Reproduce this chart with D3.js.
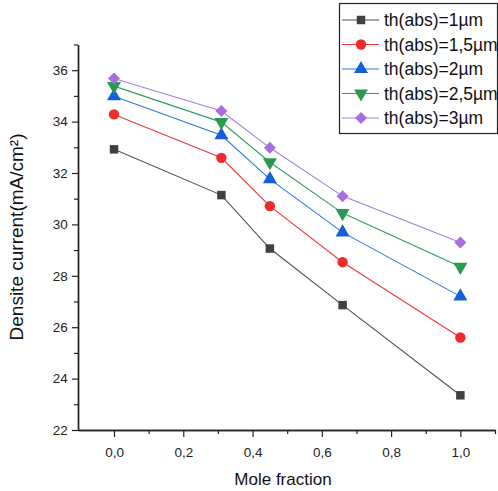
<!DOCTYPE html>
<html><head><meta charset="utf-8">
<script src="https://cdn.jsdelivr.net/npm/d3@7"></script>
<style>body{margin:0;background:#fff;} svg{display:block;font-family:Arial,"Liberation Sans",sans-serif;}</style>
</head><body>
<svg id="c" width="498" height="491"></svg>
<script>
const moleFraction = [0, 0.31, 0.45, 0.66, 1.0];
const seriesNames = ["th(abs)=1µm", "th(abs)=1,5µm", "th(abs)=2µm", "th(abs)=2,5µm", "th(abs)=3µm"];
const th1  = [32.92, 31.14, 29.06, 26.86, 23.35];
const th15 = [34.28, 32.59, 30.71, 28.53, 25.60];
const th2  = [34.99, 33.47, 31.76, 29.69, 27.20];
const th25 = [35.38, 33.98, 32.42, 30.44, 28.35];
const th3  = [35.68, 34.41, 32.98, 31.10, 29.30];
const xTicks = [0, 0.2, 0.4, 0.6, 0.8, 1.0];
const yTicks = [22, 24, 26, 28, 30, 32, 34, 36];

const seriesValues = [th1, th15, th2, th25, th3];
const lineColors = ["#505050", "#f03a3a", "#2f78e0", "#2ea05c", "#a57ee0"];
const markColors = ["#404040", "#ee2c2c", "#1560d8", "#2a9a50", "#a86ee0"];
const shapes = ["square", "circle", "up", "down", "diamond"];

const svg = d3.select("#c");
const x = d3.scaleLinear().domain([-0.104, 1.1]).range([78, 495]);
const y = d3.scaleLinear().domain([22, 37]).range([430, 44.5]);

const fmt = d => d3.format(".1f")(d).replace(".", ",");
const xAxis = svg.append("g").attr("transform", "translate(0,430)")
  .call(d3.axisBottom(x).tickValues(xTicks).tickFormat(fmt).tickSize(7).tickSizeOuter(0));
const xMinor = svg.append("g").attr("transform", "translate(0,430)")
  .call(d3.axisBottom(x).tickValues([0.1,0.3,0.5,0.7,0.9,1.1]).tickFormat("").tickSize(4).tickSizeOuter(0));
const yAxis = svg.append("g").attr("transform", "translate(78,0)")
  .call(d3.axisLeft(y).tickValues(yTicks).tickSize(6).tickSizeOuter(0));
const yMinor = svg.append("g").attr("transform", "translate(78,0)")
  .call(d3.axisLeft(y).tickValues([23,25,27,29,31,33,35,37]).tickFormat("").tickSize(4).tickSizeOuter(0));
[xAxis, xMinor, yAxis, yMinor].forEach(g => {
  g.select(".domain").attr("stroke", "#222").attr("stroke-width", 1.4);
  g.selectAll(".tick line").attr("stroke", "#222").attr("stroke-width", 1.2);
  g.selectAll(".tick text").attr("fill", "#222").style("font-size", "13.5px").style("font-family", "Arial, 'Liberation Sans', sans-serif");
});
xAxis.selectAll(".tick text").attr("dy", "1.25em");
yAxis.selectAll(".tick text").attr("dx", "-0.1em");

svg.append("text").attr("x", 283).attr("y", 485).attr("text-anchor", "middle")
  .style("font-size", "17px").attr("fill", "#111").text("Mole fraction");
svg.append("text").attr("transform", "translate(23,237) rotate(-90)").attr("text-anchor", "middle")
  .style("font-size", "19px").attr("fill", "#111").text("Densite current(mA/cm²)");

function symbolPath(k) {
  const s = shapes[k];
  if (s === "square") return d3.symbol().type(d3.symbolSquare).size(72)();
  if (s === "circle") return d3.symbol().type(d3.symbolCircle).size(85)();
  if (s === "up" || s === "down") return d3.symbol().type(d3.symbolTriangle).size(85)();
  return d3.symbol().type(d3.symbolSquare).size(72)();
}
function rot(k) {
  const s = shapes[k];
  if (s === "down") return " rotate(180)";
  if (s === "diamond") return " rotate(45)";
  return "";
}
const line = d3.line().x((d, i) => x(moleFraction[i])).y(d => y(d));

seriesValues.forEach((vals, k) => {
  svg.append("path").datum(vals).attr("d", line).attr("fill", "none")
    .attr("stroke", lineColors[k]).attr("stroke-width", 1.1);
});
seriesValues.forEach((vals, k) => {
  svg.selectAll(null).data(vals).enter().append("path")
    .attr("d", symbolPath(k))
    .attr("transform", (d, i) => `translate(${x(moleFraction[i])},${y(d)})` + rot(k))
    .attr("fill", markColors[k]);
});

const lg = svg.append("g");
lg.append("rect").attr("x", 339.5).attr("y", 3.5).attr("width", 158).attr("height", 130)
  .attr("fill", "#fff").attr("stroke", "#222").attr("stroke-width", 1.2);
seriesNames.forEach((name, k) => {
  const cy = 20 + k * 24.5;
  lg.append("line").attr("x1", 342).attr("x2", 379).attr("y1", cy).attr("y2", cy)
    .attr("stroke", lineColors[k]).attr("stroke-width", 1.2);
  lg.append("path").attr("d", symbolPath(k))
    .attr("transform", `translate(361,${cy})` + rot(k))
    .attr("fill", markColors[k]);
  lg.append("text").attr("x", 384).attr("y", cy).attr("dy", "0.36em")
    .style("font-size", "17.5px").attr("fill", "#111").text(name);
});
</script>
</body></html>
